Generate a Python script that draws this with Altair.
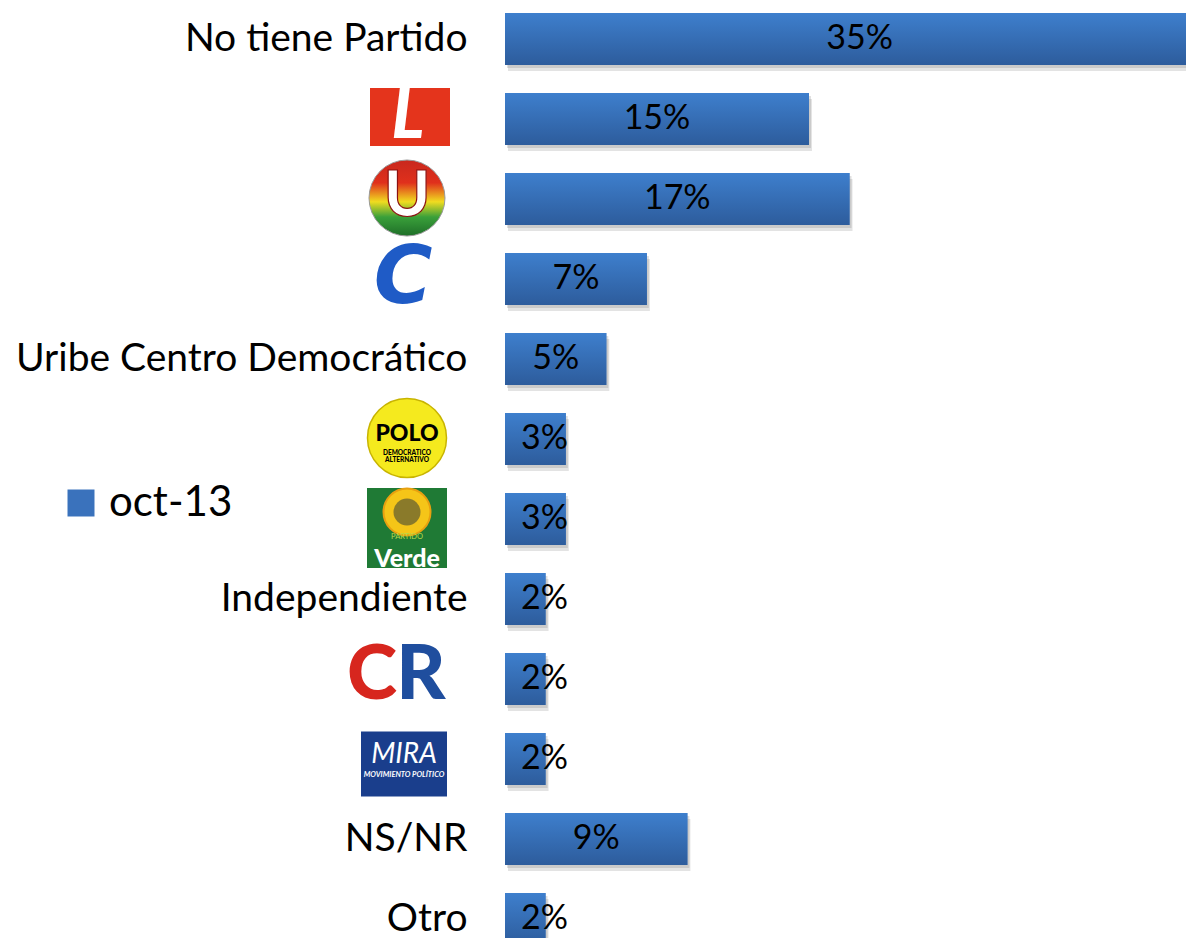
import altair as alt
import pandas as pd

# ---- data ----
categories = [
    "No tiene Partido",
    "Partido Liberal",
    "Partido de la U",
    "Partido Conservador",
    "Uribe Centro Democrático",
    "Polo Democrático Alternativo",
    "Partido Verde",
    "Independiente",
    "Cambio Radical",
    "MIRA",
    "NS/NR",
    "Otro",
]
values = [35, 15, 17, 7, 5, 3, 3, 2, 2, 2, 9, 2]
series_name = "oct-13"
logo_categories = [
    "Partido Liberal",
    "Partido de la U",
    "Partido Conservador",
    "Polo Democrático Alternativo",
    "Partido Verde",
    "Cambio Radical",
    "MIRA",
]

df = pd.DataFrame({"cat": categories, "val": values, "serie": [series_name] * len(categories)})

FONT = "Lato"
BLUE = "#3A72BC"

logo_list = "[" + ",".join("'" + c + "'" for c in logo_categories) + "]"

y_enc = alt.Y(
    "cat:N",
    sort=categories,
    title=None,
    scale=alt.Scale(paddingInner=0.35, paddingOuter=0.0625, range=[0, 942]),
    axis=alt.Axis(
        labelFont=FONT,
        labelFontSize=39,
        labelColor="black",
        labelPadding=38,
        labelLimit=600,
        domain=False,
        ticks=False,
        grid=False,
        labelExpr=f"indexof({logo_list}, datum.value) >= 0 ? '' : datum.value",
    ),
)
x_scale = alt.Scale(domain=[0, 34], nice=False, zero=True, range=[0, 689])

base = alt.Chart(df)

shadow1 = base.mark_bar(color="#808080", opacity=0.22, xOffset=3, yOffset=6, clip=True).encode(
    x=alt.X("val:Q", scale=x_scale, axis=None), y=y_enc
)
shadow2 = base.mark_bar(color="#808080", opacity=0.25, xOffset=2, yOffset=3, clip=True).encode(
    x=alt.X("val:Q", scale=x_scale, axis=None), y=y_enc
)

legend_bars = base.mark_bar(clip=True).encode(
    x=alt.X("val:Q", scale=x_scale, axis=None),
    y=y_enc,
    color=alt.Color(
        "serie:N",
        scale=alt.Scale(range=[BLUE]),
        legend=alt.Legend(
            title=None,
            orient="none",
            legendX=-445,
            legendY=474,
            symbolType="square",
            symbolSize=729,
            symbolStrokeWidth=0,
            labelFont=FONT,
            labelFontSize=42,
            labelColor="black",
            labelOffset=7,
            padding=0,
        ),
    ),
)

grad = alt.Gradient(
    gradient="linear",
    x1=0, y1=0, x2=0, y2=1,
    stops=[
        alt.GradientStop(offset=0, color="#3E7FCD"),
        alt.GradientStop(offset=1, color="#2D5C9C"),
    ],
)
grad_bars = base.mark_bar(color=grad, clip=True).encode(
    x=alt.X("val:Q", scale=x_scale, axis=None), y=y_enc
)

labels = (
    base.transform_calculate(lx="max(datum.val / 2, 1.95)", txt="datum.val + '%'")
    .mark_text(font=FONT, fontSize=34, color="black", baseline="middle", align="center")
    .encode(x=alt.X("lx:Q", scale=x_scale, axis=None), y=y_enc, text="txt:N")
)


# ---- logo badges (drawn in the label area) ----
def logo_point(cat, x, **kw):
    return alt.Chart(pd.DataFrame({"cat": [cat]})).mark_point(filled=True, opacity=1, **kw).encode(
        y=y_enc, x=alt.value(x)
    )


def logo_text(cat, x, text, **kw):
    return alt.Chart(pd.DataFrame({"cat": [cat]})).mark_text(
        text=text, baseline="middle", align="center", **kw
    ).encode(y=y_enc, x=alt.value(x))


u_grad = alt.Gradient(
    gradient="linear",
    x1=0, y1=0, x2=0, y2=1,
    stops=[
        alt.GradientStop(offset=0, color="#C8281E"),
        alt.GradientStop(offset=0.3, color="#E0301C"),
        alt.GradientStop(offset=0.55, color="#F0DC20"),
        alt.GradientStop(offset=0.75, color="#3AA03A"),
        alt.GradientStop(offset=1, color="#1E6E28"),
    ],
)

rect_lib = "M-1,-0.725L1,-0.725L1,0.725L-1,0.725Z"
rect_mira = "M-1,-0.756L1,-0.756L1,0.756L-1,0.756Z"

logos = [
    # Liberal
    logo_point(logo_categories[0], -95, shape=rect_lib, size=6400, color="#E4341C", yOffset=-2),
    logo_text(logo_categories[0], -97, "L", font=FONT, fontSize=68, fontWeight=900,
              fontStyle="italic", color="white", dy=-1),
    # U
    logo_point(logo_categories[1], -98, shape="circle", size=5776, fill=u_grad,
               stroke="#9a9a9a", strokeWidth=1, yOffset=-1),
    logo_text(logo_categories[1], -98, "U", font=FONT, fontSize=62, fontWeight=900,
              color="white", stroke="#8B1010", strokeWidth=1.2, dy=-2),
    # Conservador
    logo_text(logo_categories[2], -102, "C", font="DejaVu Sans", fontSize=80, fontWeight="bold",
              fontStyle="italic", color="#1F5BC6", dy=0),
    # Polo
    logo_point(logo_categories[3], -98, shape="circle", size=6241, color="#F5EA1E",
               stroke="#C8B400", strokeWidth=1.5, yOffset=-1),
    logo_text(logo_categories[3], -98, "POLO", font=FONT, fontSize=23, fontWeight=900,
              color="black", dy=-5),
    logo_text(logo_categories[3], -98, "DEMOCRATICO", font=FONT, fontSize=6.5, fontWeight=900,
              color="black", dy=14),
    logo_text(logo_categories[3], -98, "ALTERNATIVO", font=FONT, fontSize=6.5, fontWeight=900,
              color="black", dy=21),
    # Verde
    logo_point(logo_categories[4], -98, shape="square", size=6400, color="#1F7A35", yOffset=9),
    logo_point(logo_categories[4], -98, shape="circle", size=2209, color="#F5C518",
               stroke="#E8A010", strokeWidth=2, yOffset=-7),
    logo_point(logo_categories[4], -98, shape="circle", size=729, color="#8A7A2A", yOffset=-7),
    logo_text(logo_categories[4], -98, "PARTIDO", font=FONT, fontSize=7.5, color="#B8D84A", dy=18),
    logo_text(logo_categories[4], -98, "Verde", font=FONT, fontSize=25, fontWeight=900,
              color="white", dy=40),
    # Cambio Radical
    logo_text(logo_categories[5], -133, "C", font=FONT, fontSize=76, fontWeight=900,
              color="#D7261E", dy=-3),
    logo_text(logo_categories[5], -84, "R", font=FONT, fontSize=76, fontWeight=900,
              color="#1F4E9E", dy=-3),
    # MIRA
    logo_point(logo_categories[6], -101, shape=rect_mira, size=7396, color="#1A3E8C", yOffset=5),
    logo_text(logo_categories[6], -101, "MIRA", font=FONT, fontSize=28, fontStyle="italic",
              color="white", dy=-4),
    logo_text(logo_categories[6], -101, "MOVIMIENTO POLÍTICO", font=FONT, fontSize=7.5,
              fontStyle="italic", fontWeight="bold", color="white", dy=16),
]

chart = (
    alt.layer(shadow1, shadow2, legend_bars, grad_bars, labels, *logos)
    .properties(
        width=681,
        height=930,
        autosize=alt.AutoSizeParams(type="none"),
        padding={"left": 497, "top": 0, "right": 0, "bottom": 0},
        background="white",
    )
    .configure_view(stroke=None)
)

chart.save("out.html", embed_options={"renderer": "svg", "actions": False})
